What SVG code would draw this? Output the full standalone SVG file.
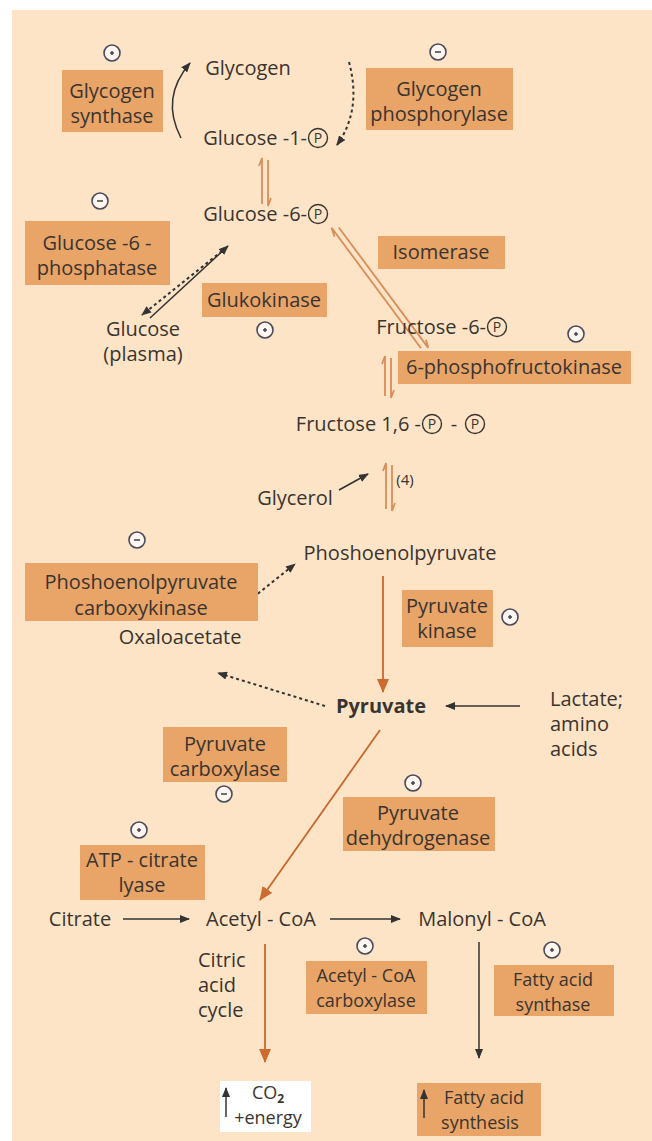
<svg xmlns="http://www.w3.org/2000/svg" width="652" height="1141" viewBox="0 0 652 1141">
<defs>
<style>
text{font-family:"Open Sans","Noto Sans","Liberation Sans",sans-serif;font-size:20px;fill:#3a3430;text-anchor:middle}
.l{text-anchor:start}
.e{text-anchor:end}
.b{font-weight:bold}
.s{font-size:18px}
.box{fill:#e9a467}
.reg circle{fill:#fdf6ee;stroke:#4a4a5a;stroke-width:1.6}
.reg line{stroke:#4a4a5a;stroke-width:1.6}
.pc{fill:none;stroke:#3a3430;stroke-width:1.4}
.pt{font-size:14px}
.k{stroke:#333;stroke-width:1.5;fill:none}
.kd{stroke:#333;stroke-width:2;fill:none;stroke-dasharray:3 3}
.o{stroke:#c8672c;stroke-width:1.8;fill:none}
.eq{stroke:#d98d58;stroke-width:1.8;fill:none}
</style>
<marker id="ak" markerWidth="10" markerHeight="8" refX="9" refY="4" orient="auto" markerUnits="userSpaceOnUse"><path d="M0,0 L10,4 L0,8 Z" fill="#333"/></marker>
<marker id="ao" markerWidth="14" markerHeight="12" refX="13" refY="6" orient="auto" markerUnits="userSpaceOnUse"><path d="M0,0 L14,6 L0,12 Z" fill="#cc6a30"/></marker>
</defs>
<rect x="0" y="0" width="652" height="1141" fill="#ffffff"/>
<rect x="12" y="10" width="640" height="1131" fill="#fde4c6"/>

<g id="connectors">
<path class="k" d="M181,138 Q160,98 190,63" marker-end="url(#ak)"/>
<path class="kd" d="M349,62 Q362,110 337,145" marker-end="url(#ak)"/>
<path class="eq" d="M259,166 L262,158 L262,204 M268,160 L268,206 L271,198"/>
<line class="k" x1="150" y1="318" x2="228" y2="246" marker-end="url(#ak)"/>
<line class="kd" x1="222" y1="251" x2="142" y2="315" marker-end="url(#ak)"/>
<path class="eq" transform="translate(334,226) rotate(-36.6)" d="M-6,9 L-3,0 L-3,150 M3,4 L3,154 L6,146"/>
<path class="eq" d="M382,364 L385,356 L385,396 M391,358 L391,398 L394,390"/>
<path class="eq" d="M383,471 L386,463 L386,509 M392,465 L392,511 L395,503"/>
<line class="k" x1="339" y1="490" x2="368" y2="474" marker-end="url(#ak)"/>
<line class="kd" x1="225" y1="620" x2="295" y2="564" marker-end="url(#ak)"/>
<line class="o" x1="383" y1="576" x2="383" y2="692" marker-end="url(#ao)"/>
<line class="kd" x1="325" y1="706" x2="218" y2="673" marker-end="url(#ak)"/>
<line class="k" x1="520" y1="706" x2="446" y2="706" marker-end="url(#ak)"/>
<line class="o" x1="380" y1="730" x2="260" y2="900" marker-end="url(#ao)"/>
<line class="k" x1="123" y1="919" x2="189" y2="919" marker-end="url(#ak)"/>
<line class="k" x1="330" y1="919" x2="400" y2="919" marker-end="url(#ak)"/>
<line class="o" x1="265" y1="944" x2="265" y2="1062" marker-end="url(#ao)"/>
<line class="k" x1="479" y1="942" x2="479" y2="1058" marker-end="url(#ak)"/>
</g>

<g id="glycogen"><text x="248" y="75">Glycogen</text></g>
<g id="g1p"><text class="e" x="307" y="145">Glucose -1-</text><circle class="pc" cx="318" cy="138" r="9.5"/><text class="pt" x="318" y="143">P</text></g>
<g id="glycogen-synthase"><rect class="box" x="62" y="70" width="101" height="62"/><text x="112" y="98">Glycogen</text><text x="112" y="123">synthase</text></g>
<g id="glycogen-phosphorylase"><rect class="box" x="366" y="68" width="147" height="62"/><text x="439" y="96">Glycogen</text><text x="439" y="121">phosphorylase</text></g>
<g id="g6p"><text class="e" x="307" y="221">Glucose -6-</text><circle class="pc" cx="318" cy="214" r="9.5"/><text class="pt" x="318" y="219">P</text></g>
<g id="g6-phosphatase"><rect class="box" x="25" y="221" width="145" height="64"/><text x="97" y="250">Glucose -6 -</text><text x="97" y="275">phosphatase</text></g>
<g id="glukokinase"><rect class="box" x="202" y="283" width="125" height="34"/><text x="264" y="307">Glukokinase</text></g>
<g id="glucose-plasma"><text x="143" y="336">Glucose</text><text x="143" y="361">(plasma)</text></g>
<g id="isomerase"><rect class="box" x="378" y="236" width="127" height="33"/><text x="441" y="259">Isomerase</text></g>
<g id="f6p"><text class="e" x="486" y="334">Fructose -6-</text><circle class="pc" cx="497" cy="327" r="9.5"/><text class="pt" x="497" y="332">P</text></g>
<g id="pfk"><rect class="box" x="398" y="351" width="233" height="33"/><text x="514" y="374">6-phosphofructokinase</text></g>
<g id="f16bp"><text class="e" x="421" y="431">Fructose 1,6 -</text><circle class="pc" cx="432" cy="424" r="9.5"/><text class="pt" x="432" y="429">P</text><text x="454" y="431">-</text><circle class="pc" cx="475" cy="424" r="9.5"/><text class="pt" x="475" y="429">P</text></g>
<g id="step4"><text x="405" y="485" style="font-size:15px">(4)</text></g>
<g id="glycerol"><text x="295" y="505">Glycerol</text></g>
<g id="pepck"><rect class="box" x="25" y="563" width="233" height="58"/><text x="141" y="589">Phoshoenolpyruvate</text><text x="141" y="615">carboxykinase</text></g>
<g id="pep"><text x="400" y="560">Phoshoenolpyruvate</text></g>
<g id="pyruvate-kinase"><rect class="box" x="402" y="590" width="91" height="57"/><text x="447" y="613">Pyruvate</text><text x="447" y="638">kinase</text></g>
<g id="oxaloacetate"><text x="180" y="644">Oxaloacetate</text></g>
<g id="pyruvate"><text class="b" x="381" y="713">Pyruvate</text></g>
<g id="lactate"><text class="l" x="550" y="706">Lactate;</text><text class="l" x="550" y="731">amino</text><text class="l" x="550" y="756">acids</text></g>
<g id="pyruvate-carboxylase"><rect class="box" x="163" y="727" width="124" height="55"/><text x="225" y="751">Pyruvate</text><text x="225" y="776">carboxylase</text></g>
<g id="pdh"><rect class="box" x="343" y="797" width="152" height="54"/><text x="418" y="820">Pyruvate</text><text x="418" y="845">dehydrogenase</text></g>
<g id="atp-citrate-lyase"><rect class="box" x="80" y="845" width="125" height="55"/><text x="142" y="867">ATP - citrate</text><text x="142" y="892">lyase</text></g>
<g id="citrate"><text x="80" y="926">Citrate</text></g>
<g id="acetyl-coa"><text x="261" y="926">Acetyl - CoA</text></g>
<g id="malonyl-coa"><text x="482" y="926">Malonyl - CoA</text></g>
<g id="citric-acid-cycle"><text class="l" x="198" y="967">Citric</text><text class="l" x="198" y="992">acid</text><text class="l" x="198" y="1017">cycle</text></g>
<g id="acc"><rect class="box" x="306" y="961" width="121" height="53"/><text class="s" x="366" y="982">Acetyl - CoA</text><text class="s" x="366" y="1007">carboxylase</text></g>
<g id="fas"><rect class="box" x="494" y="965" width="120" height="51"/><text class="s" x="553" y="986">Fatty acid</text><text class="s" x="553" y="1011">synthase</text></g>
<g id="co2"><rect x="220" y="1081" width="91" height="51" fill="#ffffff"/><text class="s" x="268" y="1099">CO<tspan style="font-size:12px;font-weight:bold" dy="4">2</tspan></text><text class="s" x="268" y="1124">+energy</text><line class="k" x1="226" y1="1117" x2="226" y2="1088" marker-end="url(#ak)"/></g>
<g id="fatty-acid-synthesis"><rect class="box" x="417" y="1083" width="124" height="53"/><text class="s" x="484" y="1104">Fatty acid</text><text class="s" x="480" y="1129">synthesis</text><line class="k" x1="424" y1="1118" x2="424" y2="1090" marker-end="url(#ak)"/></g>

<g id="regulators" class="reg">
<g><circle cx="112" cy="53" r="8"/><line x1="110" y1="53" x2="114" y2="53"/><line x1="112" y1="51" x2="112" y2="55"/></g>
<g><circle cx="438" cy="52" r="8"/><line x1="435" y1="52" x2="441" y2="52"/></g>
<g><circle cx="100" cy="201" r="8"/><line x1="97" y1="201" x2="103" y2="201"/></g>
<g><circle cx="265" cy="330" r="8"/><line x1="263" y1="330" x2="267" y2="330"/><line x1="265" y1="328" x2="265" y2="332"/></g>
<g><circle cx="576" cy="334" r="8"/><line x1="574" y1="334" x2="578" y2="334"/><line x1="576" y1="332" x2="576" y2="336"/></g>
<g><circle cx="137" cy="540" r="8"/><line x1="134" y1="540" x2="140" y2="540"/></g>
<g><circle cx="510" cy="617" r="8"/><line x1="508" y1="617" x2="512" y2="617"/><line x1="510" y1="615" x2="510" y2="619"/></g>
<g><circle cx="224" cy="794" r="8"/><line x1="221" y1="794" x2="227" y2="794"/></g>
<g><circle cx="413" cy="783" r="8"/><line x1="411" y1="783" x2="415" y2="783"/><line x1="413" y1="781" x2="413" y2="785"/></g>
<g><circle cx="139" cy="830" r="8"/><line x1="137" y1="830" x2="141" y2="830"/><line x1="139" y1="828" x2="139" y2="832"/></g>
<g><circle cx="365" cy="946" r="8"/><line x1="363" y1="946" x2="367" y2="946"/><line x1="365" y1="944" x2="365" y2="948"/></g>
<g><circle cx="552" cy="950" r="8"/><line x1="550" y1="950" x2="554" y2="950"/><line x1="552" y1="948" x2="552" y2="952"/></g>
</g>
</svg>
